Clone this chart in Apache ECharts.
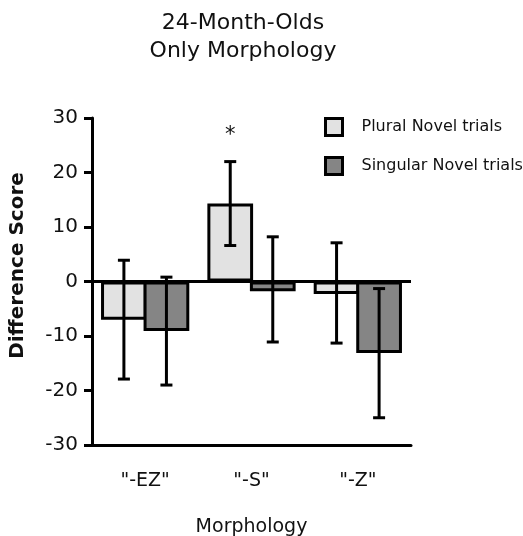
<!DOCTYPE html>
<html><head><meta charset="utf-8">
<script src="https://cdn.jsdelivr.net/npm/echarts@6/dist/echarts.min.js"></script>
<style>html,body{margin:0;padding:0;background:#fff}#c{width:523px;height:536px}</style>
</head><body><div id="c"></div>
<script>
const categories = ['"-EZ"', '"-S"', '"-Z"'];
const seriesNames = ['Plural Novel trials', 'Singular Novel trials'];
const pluralMeans = [-7.0, 14.3, -2.3];
const pluralLow = [-17.9, 6.6, -11.3];
const pluralHigh = [3.9, 22.0, 7.1];
const singularMeans = [-9.1, -1.8, -13.1];
const singularLow = [-19.0, -11.1, -25.0];
const singularHigh = [0.8, 8.2, -1.3];
const yTicks = [-30, -20, -10, 0, 10, 20, 30];
const significance = [[1, 26.8, '*']];

const FONT = 'DejaVu Sans';
const CAT_GAP = 0.17;
const BAR_GAP = -0.07;
const chart = echarts.init(document.getElementById('c'), null, {renderer: 'canvas'});

function barOffset(band) {
  const w = band * (1 - CAT_GAP) / (2 + BAR_GAP);
  return (w + BAR_GAP * w) / 2;
}

function errorSeries(low, high, seriesIndex) {
  return {
    type: 'custom',
    z: 10,
    silent: true,
    data: low.map((l, i) => [i, l, high[i]]),
    renderItem: function (params, api) {
      const xi = api.value(0);
      const lo = api.coord([xi, api.value(1)]);
      const hi = api.coord([xi, api.value(2)]);
      const band = api.size([1, 0])[0];
      const off = barOffset(band);
      const cx = lo[0] + (seriesIndex === 0 ? -off : off);
      const cap = 6;
      const st = {stroke: '#000', lineWidth: 3};
      return {type: 'group', children: [
        {type: 'line', shape: {x1: cx, y1: lo[1], x2: cx, y2: hi[1]}, style: st},
        {type: 'line', shape: {x1: cx - cap, y1: lo[1], x2: cx + cap, y2: lo[1]}, style: st},
        {type: 'line', shape: {x1: cx - cap, y1: hi[1], x2: cx + cap, y2: hi[1]}, style: st}
      ]};
    }
  };
}

const option = {
  animation: false,
  backgroundColor: '#fff',
  title: {
    text: '24-Month-Olds\nOnly Morphology',
    left: 238, top: 4, textAlign: 'center',
    textStyle: {fontFamily: FONT, fontWeight: 'normal', fontSize: 22, color: '#111', lineHeight: 28}
  },
  legend: {
    data: seriesNames,
    orient: 'vertical',
    left: 319, top: 112,
    icon: 'rect',
    itemWidth: 17, itemHeight: 17, itemGap: 19,
    itemStyle: {borderColor: '#000', borderWidth: 3},
    textStyle: {fontFamily: FONT, fontSize: 16, color: '#111', padding: [0, 0, 0, 14]}
  },
  grid: {left: 92, right: 112, top: 118, bottom: 91, outerBoundsMode: 'none', containLabel: false},
  xAxis: {
    type: 'category',
    data: categories,
    name: 'Morphology',
    nameLocation: 'middle',
    nameGap: 73,
    nameTextStyle: {fontFamily: FONT, fontSize: 19, color: '#111'},
    axisLine: {onZero: false, lineStyle: {color: '#000', width: 3}},
    axisTick: {alignWithLabel: true, length: 8, lineStyle: {color: '#000', width: 3}},
    axisLabel: {fontFamily: FONT, fontSize: 19, color: '#111', margin: 27}
  },
  yAxis: {
    type: 'value',
    min: -30, max: 30, interval: 10,
    name: 'Difference Score',
    nameLocation: 'middle',
    nameGap: 64,
    nameTextStyle: {fontFamily: FONT, fontSize: 20, fontWeight: 'bold', color: '#111', padding: [0, 0, 0, 32]},
    axisLine: {show: true, lineStyle: {color: '#000', width: 3}},
    axisTick: {show: true, length: 8, lineStyle: {color: '#000', width: 3}},
    axisLabel: {fontFamily: FONT, fontSize: 20, color: '#111', margin: 14,
      formatter: v => yTicks.includes(v) ? String(v) : ''},
    splitLine: {show: false}
  },
  series: [
    {
      name: seriesNames[0], type: 'bar', data: pluralMeans,
      barGap: (BAR_GAP * 100) + '%', barCategoryGap: (CAT_GAP * 100) + '%',
      itemStyle: {color: '#e2e2e2', borderColor: '#000', borderWidth: 3},
      markLine: {
        silent: true, symbol: 'none', label: {show: false},
        lineStyle: {color: '#000', width: 3, type: 'solid'},
        data: [{yAxis: 0}]
      }
    },
    {
      name: seriesNames[1], type: 'bar', data: singularMeans,
      barGap: (BAR_GAP * 100) + '%', barCategoryGap: (CAT_GAP * 100) + '%',
      itemStyle: {color: '#858585', borderColor: '#000', borderWidth: 3}
    },
    errorSeries(pluralLow, pluralHigh, 0),
    errorSeries(singularLow, singularHigh, 1),
    {
      type: 'custom', silent: true, z: 11,
      data: significance,
      renderItem: function (params, api) {
        const band = api.size([1, 0])[0];
        const p = api.coord([api.value(0), api.value(1)]);
        return {type: 'text', x: p[0] - barOffset(band), y: p[1],
          style: {text: significance[params.dataIndex][2], fontFamily: FONT, fontSize: 21,
            fill: '#111', textAlign: 'center', textVerticalAlign: 'middle'}};
      }
    }
  ]
};
chart.setOption(option);
</script></body></html>
